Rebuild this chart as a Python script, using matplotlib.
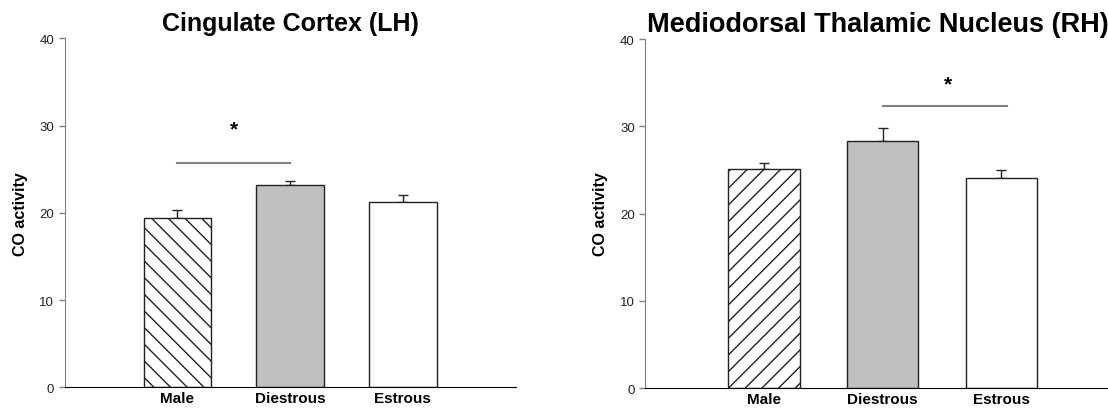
import numpy as np
import matplotlib.pyplot as plt

plt.rcParams['font.family'] = ['Liberation Sans', 'DejaVu Sans']

# Дані
groups = ['Male', 'Diestrous', 'Estrous']
cc_mean = [19.45, 23.2, 21.25]
cc_err = [0.9, 0.45, 0.85]
md_mean = [25.1, 28.35, 24.1]
md_err = [0.7, 1.45, 0.9]

fills = ['white', '#c0c0c0', 'white']


def panel(ax, means, errs, hatch, title, tsize, sig, star):
    x = np.arange(1, len(groups) + 1)
    bars = ax.bar(x, means, width=0.6, color=fills, edgecolor='#222222', linewidth=1, zorder=2)
    bars[0].set_hatch(hatch)
    ax.errorbar(x, means, yerr=[np.zeros(len(errs)), errs], fmt='none',
                ecolor='#222222', elinewidth=1, capsize=3.5, capthick=1, zorder=1)

    # лінія значущості
    ax.plot(sig[:2], [sig[2], sig[2]], color='#808080', linewidth=1.5)
    ax.text(star[0], star[1], '*', ha='center', va='center', fontsize=15, fontweight='bold')

    ax.set_xlim(0, 4)
    ax.set_ylim(0, 40)
    ax.set_yticks([0, 10, 20, 30, 40])
    ax.set_xticks(x)
    ax.set_xticklabels(groups, fontweight='bold', fontsize=11)
    ax.tick_params(axis='x', length=0, pad=3)
    ax.tick_params(axis='y', length=4, width=1, color='#808080', labelsize=9.5, labelcolor='#222222')
    ax.set_ylabel('CO activity', fontweight='bold', fontsize=11.5)
    ax.spines['top'].set_visible(False)
    ax.spines['right'].set_visible(False)
    ax.spines['left'].set_color('#808080')
    ax.spines['bottom'].set_color('black')
    ax.set_title(title, fontweight='bold', fontsize=tsize, pad=6)


fig = plt.figure(figsize=(11.08, 4.10), dpi=100)
ax1 = fig.add_axes([0.0584, 0.0529, 0.4069, 0.851])
ax2 = fig.add_axes([0.5824, 0.0512, 0.4285, 0.851])

panel(ax1, cc_mean, cc_err, '\\\\', 'Cingulate Cortex (LH)', 18, (1, 2, 25.7), (1.5, 29.6))
panel(ax2, md_mean, md_err, '//', 'Mediodorsal Thalamic Nucleus (RH)', 19.5, (2, 3.05, 32.3), (2.55, 34.9))

ax1.yaxis.set_label_coords(-0.082, 0.5)
ax2.yaxis.set_label_coords(-0.078, 0.5)
ax2.title.set_x(0.49)

fig.savefig('out.png', dpi=100)
